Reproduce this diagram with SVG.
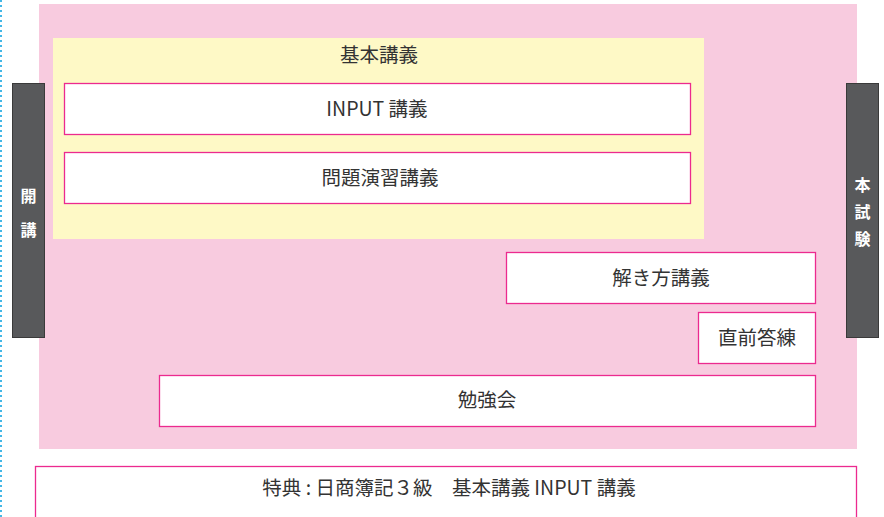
<svg xmlns="http://www.w3.org/2000/svg" width="884" height="517" viewBox="0 0 884 517">
<style>
.lbl{font-family:"Noto Sans CJK JP","Noto Sans",sans-serif;font-size:19.5px;fill:#333;text-anchor:middle;dominant-baseline:central}
.box{fill:#fff;stroke:#ec2a8f;stroke-width:1.3}
.bar{fill:#58595b;stroke:#3a3a3a;stroke-width:1}
.bt{font-family:"Noto Sans CJK JP","Noto Sans",sans-serif;font-size:16px;font-weight:bold;fill:#fff;text-anchor:middle;dominant-baseline:central}
</style>
<rect width="884" height="517" fill="#fff"/>
<line x1="1" y1="0" x2="1" y2="517" stroke="#41b6e6" stroke-width="2" stroke-dasharray="2,3"/>
<rect x="39" y="4" width="818" height="445" fill="#f8cbdf"/>
<g id="basic">
<rect x="53" y="38" width="651" height="201" fill="#fef9c6"/>
<text class="lbl" x="379" y="53">基本講義</text>
</g>
<g id="input"><rect class="box" x="64.5" y="83.5" width="626" height="51"/><text class="lbl" x="377" y="107">INPUT 講義</text></g>
<g id="mondai"><rect class="box" x="64.5" y="152.5" width="626" height="51"/><text class="lbl" x="380" y="176">問題演習講義</text></g>
<g id="tokikata"><rect class="box" x="506.5" y="252.5" width="309" height="51"/><text class="lbl" x="661" y="276">解き方講義</text></g>
<g id="chokuzen"><rect class="box" x="698.5" y="312.5" width="117" height="51"/><text class="lbl" x="757" y="336">直前答練</text></g>
<g id="benkyo"><rect class="box" x="159.5" y="375.5" width="656" height="51"/><text class="lbl" x="487" y="398">勉強会</text></g>
<g id="tokuten"><rect class="box" x="35.5" y="466.5" width="821" height="60"/><text class="lbl" x="449" y="486">特典 : 日商簿記３級　基本講義 INPUT 講義</text></g>
<g id="kaiko"><rect class="bar" x="12.5" y="83.5" width="32" height="254"/><text class="bt" x="28.5" y="195">開</text><text class="bt" x="28.5" y="229">講</text></g>
<g id="honshiken"><rect class="bar" x="846.5" y="83.5" width="32" height="254"/><text class="bt" x="862.5" y="184">本</text><text class="bt" x="862.5" y="211">試</text><text class="bt" x="862.5" y="238">験</text></g>
<g id="connectors"></g>
</svg>
